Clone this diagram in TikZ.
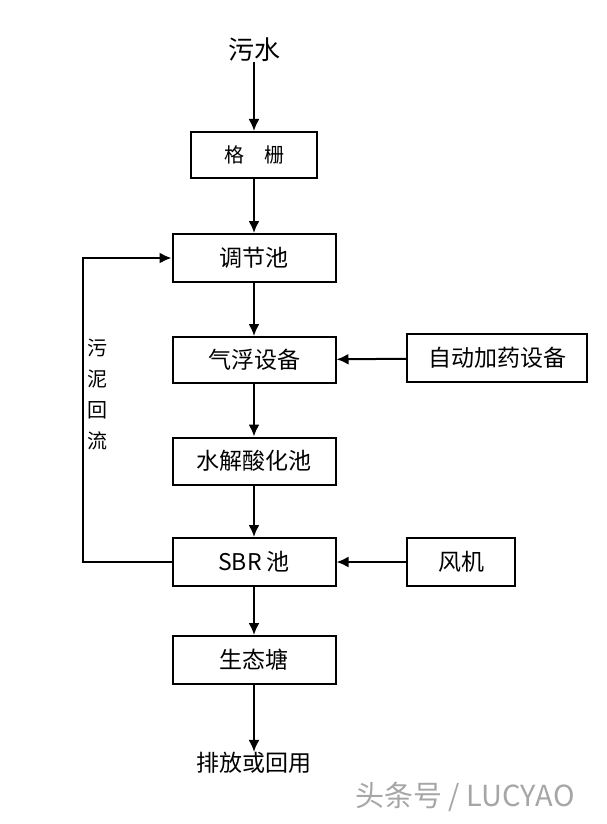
\documentclass[tikz,border=0pt]{standalone}
\usepackage{fontspec}
\setmainfont{Noto Sans CJK SC}
\usetikzlibrary{arrows.meta}

\begin{document}
\begin{tikzpicture}[x=0.5pt, y=-0.5pt]
				\useasboundingbox (0,0) rectangle (606,824);
				\tikzstyle{box}=[draw, line width=1pt, inner sep=0pt, minimum height=24pt, font=\fontsize{11.5}{13}\selectfont];
				\tikzstyle{label}=[inner sep=0pt, font=\fontsize{11.5}{13}\selectfont];
				\tikzstyle{flow}=[-{Latex[length=6pt, width=5.5pt]}, line width=1pt];
				\node [label, font=\fontsize{13}{15}\selectfont] (water) at (254, 50) {污水};
				\node [box, minimum width=63pt, minimum height=23pt, font=\fontsize{10}{12}\selectfont] (grid) at (254, 155) {格\quad 栅};
				\node [box, minimum width=81.5pt] (tiao) at (254, 258) {调节池};
				\node [box, minimum width=81.5pt, minimum height=23pt] (qifu) at (254, 360) {气浮设备};
				\node [box, minimum width=90pt] (drug) at (497, 358) {自动加药设备};
				\node [box, minimum width=81.5pt, minimum height=23.5pt] (shuijie) at (254, 461) {水解酸化池};
				\node [box, minimum width=81.5pt] (sbr) at (254, 562) {SBR 池};
				\node [box, minimum width=54pt] (fan) at (461, 562) {风机};
				\node [box, minimum width=81.5pt] (pond) at (254, 660) {生态塘};
				\node [label] (out) at (254, 763) {排放或回用};
				\node [label, font=\fontsize{10}{11}\selectfont, align=center] (back) at (97, 394) {污\\[4.5pt]泥\\[4.5pt]回\\[4.5pt]流};
				\coordinate (turn) at (83, 562);
				\draw [flow] (water) -- (grid);
				\draw [flow] (grid) -- (tiao);
				\draw [flow] (tiao) -- (qifu);
				\draw [flow] (drug) -- (qifu);
				\draw [flow] (qifu) -- (shuijie);
				\draw [flow] (shuijie) -- (sbr);
				\draw [flow] (fan) -- (sbr);
				\draw [flow] (sbr) -- (pond);
				\draw [flow] (pond) -- (out);
				\draw [flow] (sbr.west) -- (turn) |- (tiao.west);
				\node [label, text=black!35, font=\fontsize{14.5}{16}\selectfont] (mark) at (465, 797) {头条号 / LUCYAO};
			\end{tikzpicture}
\end{document}
